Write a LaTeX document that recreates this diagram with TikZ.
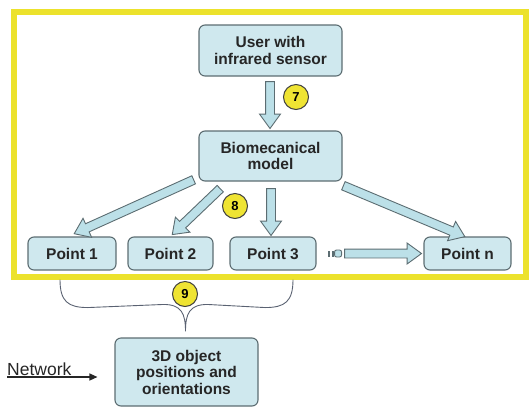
\documentclass[tikz,border=0pt]{standalone}
\usepackage{fontspec}
\setmainfont{Liberation Sans}
\usetikzlibrary{shapes.arrows,calc,arrows.meta}
\definecolor{boxfill}{HTML}{CFE8EE}
\definecolor{boxline}{HTML}{5C6D72}
\definecolor{arrfill}{HTML}{BCE0E8}
\definecolor{frameyellow}{HTML}{ECE22C}
\definecolor{numyellow}{HTML}{EFE433}
\definecolor{txt}{HTML}{262626}
\definecolor{bracecol}{HTML}{5A6272}
\tikzset{
  box/.style={draw=boxline, fill=boxfill, line width=1.1pt, rounded corners=6pt,
    align=center, inner sep=0pt, text=txt,
    font=\bfseries\fontsize{15.5}{16.5}\selectfont},
  barrow/.style={single arrow, draw=boxline, fill=arrfill, line width=0.9pt,
    inner xsep=0pt, inner ysep=4pt, outer sep=0pt,
    single arrow head extend=6pt, single arrow tip angle=72},
  numc/.style={circle, draw=black!75, fill=numyellow, line width=1pt,
    minimum size=25pt, inner sep=0pt, text=black,
    font=\bfseries\fontsize{13}{13}\selectfont},
}
\newcommand{\barr}[3]{\path let \p1=(#1), \p2=(#2),
  \n1={atan2(\y2-\y1,\x2-\x1)}, \n2={veclen(\x2-\x1,\y2-\y1)} in
  node[barrow, minimum height=\n2, rotate=\n1] (#3) at ($(#1)!0.5!(#2)$) {};}
\begin{document}
\begin{tikzpicture}[x=1pt,y=-1pt]
\useasboundingbox (0,0) rectangle (530,408);
% yellow frame
\draw[frameyellow, line width=6pt] (14,12) rectangle (526,277);
% boxes
\node[box, minimum width=143pt, minimum height=51pt] (user) at (270.5,50.5) {User with\\infrared sensor};
\node[box, minimum width=143pt, minimum height=50pt] (bio) at (270.5,156) {Biomecanical\\model};
\node[box, minimum width=88pt, minimum height=33pt] (p1) at (72,253.5) {Point 1};
\node[box, minimum width=85pt, minimum height=33pt] (p2) at (170.5,253.5) {Point 2};
\node[box, minimum width=86pt, minimum height=33pt] (p3) at (273,253.5) {Point 3};
\node[box, minimum width=87pt, minimum height=33pt] (pn) at (467.5,253.5) {Point n};
\node[box, minimum width=143pt, minimum height=68pt] (obj) at (186.5,372) {3D object\\positions and\\orientations};
% arrow endpoints
\coordinate (a7s) at ($(user.south)+(-0.5,2)$);
\coordinate (a7e) at ($(bio.north)+(-0.5,-5)$);
\coordinate (a1s) at ($(bio.south west)+(-2,-3)$);
\coordinate (a1e) at ($(p1.north)+(5,-4)$);
\coordinate (a2s) at ($(bio.south west)+(24,5)$);
\coordinate (a2e) at ($(p2.north west)+(47,-4)$);
\coordinate (a3s) at ($(bio.south)+(0.5,4)$);
\coordinate (a3e) at ($(p3.north)+(-2,-4)$);
\coordinate (a4s) at ($(bio.south east)+(-2,3)$);
\coordinate (a4e) at ($(pn.north)+(-5.5,-1)$);
\coordinate (a5s) at ($(p3.east)+(25,0)$);
\coordinate (a5e) at ($(pn.west)+(-5,0)$);
\barr{a7s}{a7e}{arr7}
\barr{a1s}{a1e}{arr1}
\barr{a2s}{a2e}{arr2}
\barr{a3s}{a3e}{arr3}
\barr{a4s}{a4e}{arr4}
\barr{a5s}{a5e}{arr5}
% dotted start of horizontal arrow
\fill[boxline] ($(p3.east)+(11,-3)$) rectangle ($(p3.east)+(13,3)$);
\fill[boxline] ($(p3.east)+(15,-3)$) rectangle ($(p3.east)+(17,3)$);
\draw[boxline, fill=arrfill, line width=0.9pt, rounded corners=2pt] ($(p3.east)+(18,-3.5)$) rectangle ($(p3.east)+(25,3.5)$);
% brace
\coordinate (bl) at ($(p1.south)+(-12,9)$);
\coordinate (br) at ($(p3.south)+(20,9)$);
\coordinate (btip) at ($(obj.north)+(-1,-6)$);
\draw[bracecol, line width=0.9pt] (bl) .. controls ($(bl)+(0,22)$) and ($(bl)+(8,28)$) .. ($(bl)+(28,28)$)
  -- ($(btip)+(-22,-27)$) .. controls ($(btip)+(-4,-27)$) and ($(btip)+(0,-18)$) .. (btip)
  .. controls ($(btip)+(0,-18)$) and ($(btip)+(4,-27)$) .. ($(btip)+(22,-27)$)
  -- ($(br)+(-28,28)$) .. controls ($(br)+(-8,28)$) and ($(br)+(0,22)$) .. (br);
% number circles
\node[numc] (n7) at (296,97) {7};
\node[numc] (n8) at (235,206) {8};
\node[numc] (n9) at (185,294) {9};
% network
\node[anchor=base west, inner sep=0pt, text=txt, font=\fontsize{17.5}{18}\selectfont] (net) at (7,375) {Network};
\coordinate (netend) at ($(obj.west)+(-17,4)$);
\draw[txt, line width=1.2pt, -{Triangle[length=8pt,width=7pt]}] ($(net.base west)+(0,2)$) -- (netend |- 0,377);
\end{tikzpicture}
\end{document}
